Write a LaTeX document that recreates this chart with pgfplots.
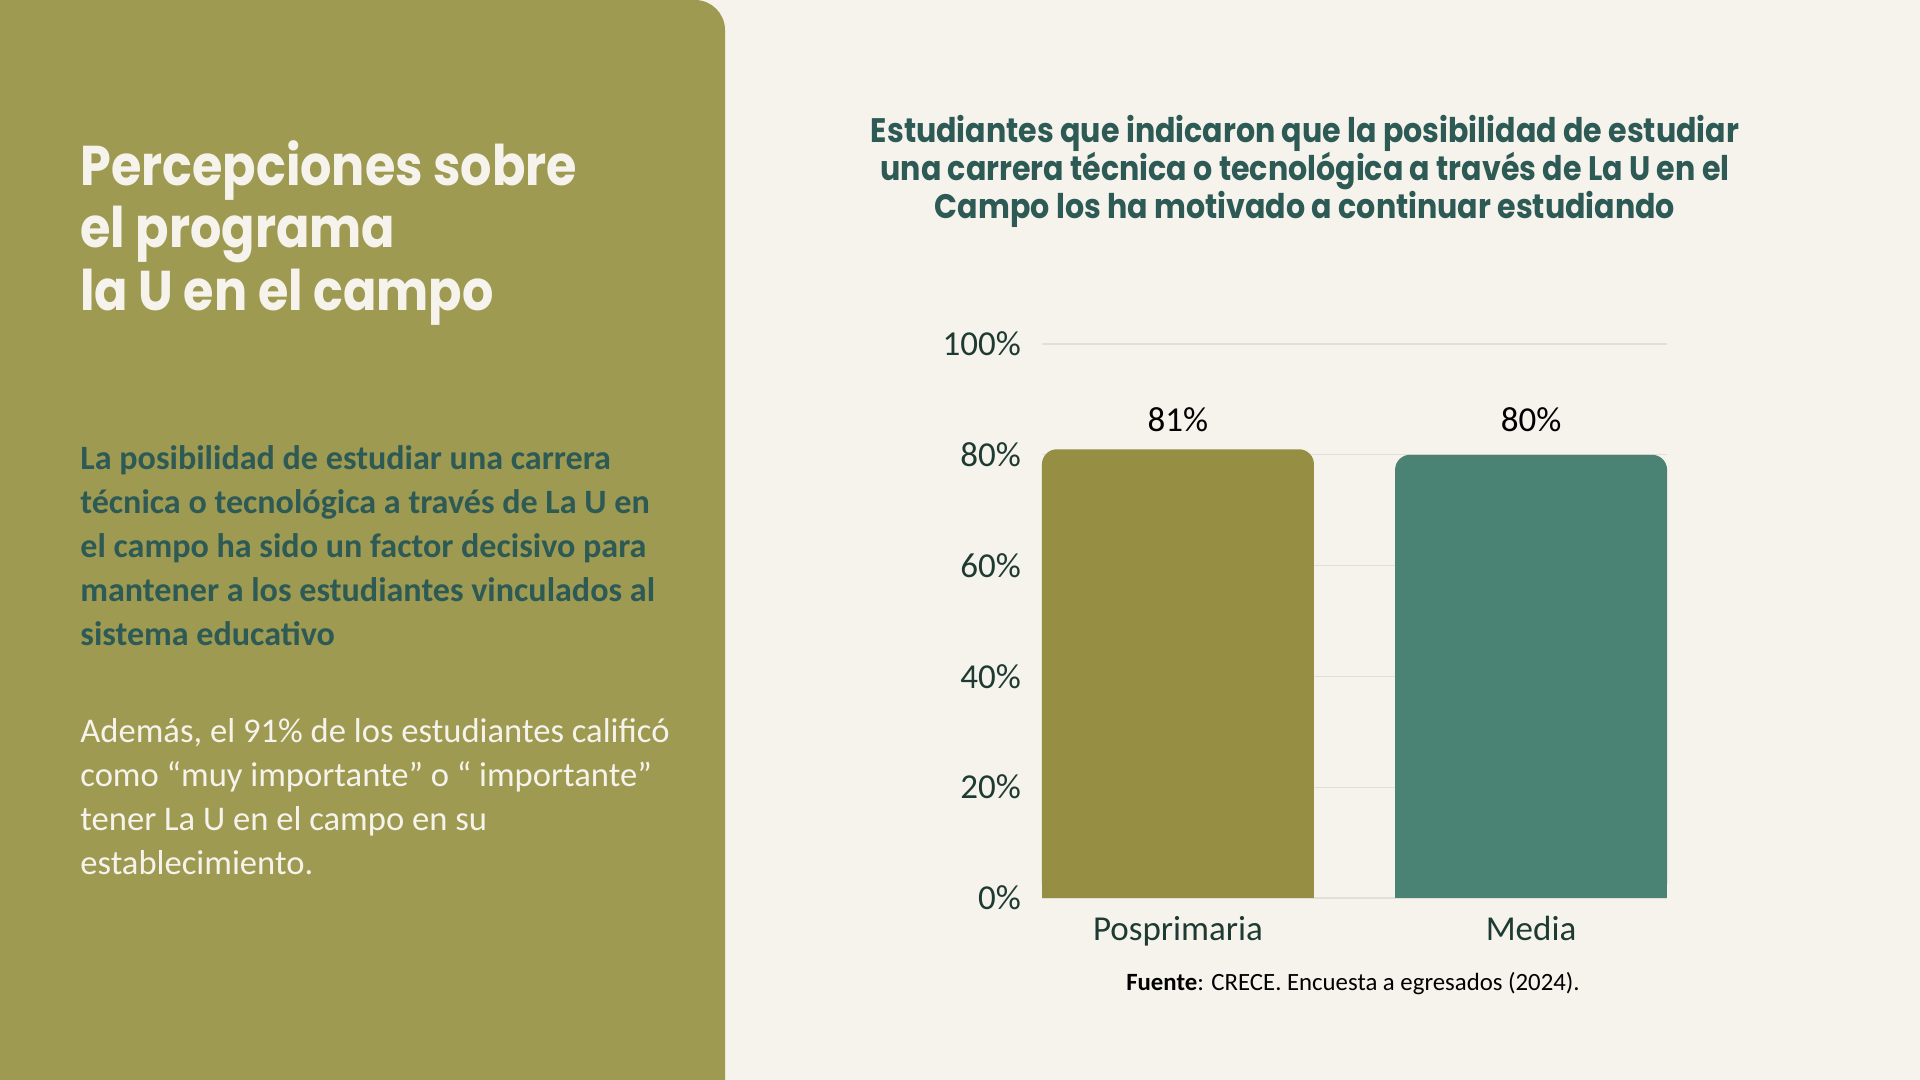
\documentclass[border=0pt]{standalone}
\usepackage{pgfplots}
\pgfplotsset{compat=1.18}
\usepackage{fontspec}
\setmainfont{Carlito}
\newfontfamily\titlefont[FakeStretch=0.88]{Poppins}
\newfontfamily\charttitlefont[FakeStretch=0.885]{Poppins}
\definecolor{bgc}{HTML}{F6F3EC}
\definecolor{panel}{HTML}{9E9A52}
\definecolor{cream}{HTML}{F6F3EC}
\definecolor{teal}{HTML}{2D5A55}
\definecolor{barA}{HTML}{968F43}
\definecolor{barB}{HTML}{4A8273}
\definecolor{tickc}{HTML}{1E3B33}
\definecolor{gridc}{HTML}{E2DFD7}
\begin{document}
\begin{tikzpicture}
\useasboundingbox (0,0) rectangle (960pt,540pt);
\fill[bgc] (0,0) rectangle (960pt,540pt);
\fill[panel, rounded corners=15pt] (-30pt,-30pt) rectangle (362.5pt,540pt);
% left title
\begin{scope}[every node/.style={anchor=base west, inner sep=0pt, text=cream, font=\titlefont\bfseries\fontsize{28}{31}\selectfont}]
\node at (40pt,447pt) {Percepciones sobre};
\node at (40pt,416pt) {el programa};
\node at (40pt,384.5pt) {la U en el campo};
\end{scope}
% bold paragraph
\begin{scope}[every node/.style={anchor=base west, inner sep=0pt, text=teal, font=\bfseries\fontsize{17.05}{22}\selectfont}]
\node at (40pt,305pt) {La posibilidad de estudiar una carrera};
\node at (40pt,283pt) {técnica o tecnológica a través de La U en};
\node at (40pt,261pt) {el campo ha sido un factor decisivo para};
\node at (40pt,239pt) {mantener a los estudiantes vinculados al};
\node at (40pt,217pt) {sistema educativo};
\end{scope}
\begin{scope}[every node/.style={anchor=base west, inner sep=0pt, text=cream, font=\fontsize{17.3}{22}\selectfont}]
\node at (40pt,168.5pt) {Además, el 91\% de los estudiantes calificó};
\node at (40pt,146.5pt) {como “muy importante” o “ importante”};
\node at (40pt,124.5pt) {tener La U en el campo en su};
\node at (40pt,102.5pt) {establecimiento.};
\end{scope}
% chart title
\begin{scope}[every node/.style={anchor=base, inner sep=0pt, text=teal, font=\charttitlefont\bfseries\fontsize{17}{19}\selectfont}]
\node at (652.5pt,468.5pt) {Estudiantes que indicaron que la posibilidad de estudiar};
\node at (652.5pt,449.5pt) {una carrera técnica o tecnológica a través de La U en el};
\node at (652.5pt,430.5pt) {Campo los ha motivado a continuar estudiando};
\end{scope}
\begin{axis}[
  at={(521pt,91pt)}, anchor=south west,
  scale only axis, width=312.5pt, height=277pt,
  xmin=-0.385, xmax=1.385, ymin=0, ymax=100,
  ybar, bar width=136pt, bar shift=0pt,
  axis line style={draw=none},
  major tick length=0pt,
  ymajorgrids, grid style={gridc, line width=0.6pt},
  ytick={0,20,40,60,80,100},
  yticklabels={0\%,20\%,40\%,60\%,80\%,100\%},
  xtick={0,1}, xticklabels={Posprimaria,Media},
  tick label style={text=tickc, font=\fontsize{17.5}{20}\selectfont},
  yticklabel style={xshift=-7pt},
  xticklabel style={yshift=-5.5pt},
  /pgf/number format/assume math mode=true,
  clip=false,
]
\addplot[fill=barA, draw=none, rounded corners=7.5pt,
  nodes near coords={\pgfmathprintnumber{\pgfplotspointmeta}\%},
  every node near coord/.append style={anchor=base, yshift=9pt, inner sep=0pt, text=black, font=\fontsize{17.5}{20}\selectfont}]
  coordinates {(0,81)};
\addplot[fill=barA, draw=none] coordinates {(0,40)};
\addplot[fill=barB, draw=none, rounded corners=7.5pt,
  nodes near coords={\pgfmathprintnumber{\pgfplotspointmeta}\%},
  every node near coord/.append style={anchor=base, yshift=11.8pt, inner sep=0pt, text=black, font=\fontsize{17.5}{20}\selectfont}]
  coordinates {(1,80)};
\addplot[fill=barB, draw=none] coordinates {(1,40)};
\end{axis}
\node[anchor=base, inner sep=0pt, font=\fontsize{12.4}{14}\selectfont] at (676.5pt,44.5pt) {\textbf{Fuente}: CRECE. Encuesta a egresados (2024).};
\end{tikzpicture}
\end{document}
